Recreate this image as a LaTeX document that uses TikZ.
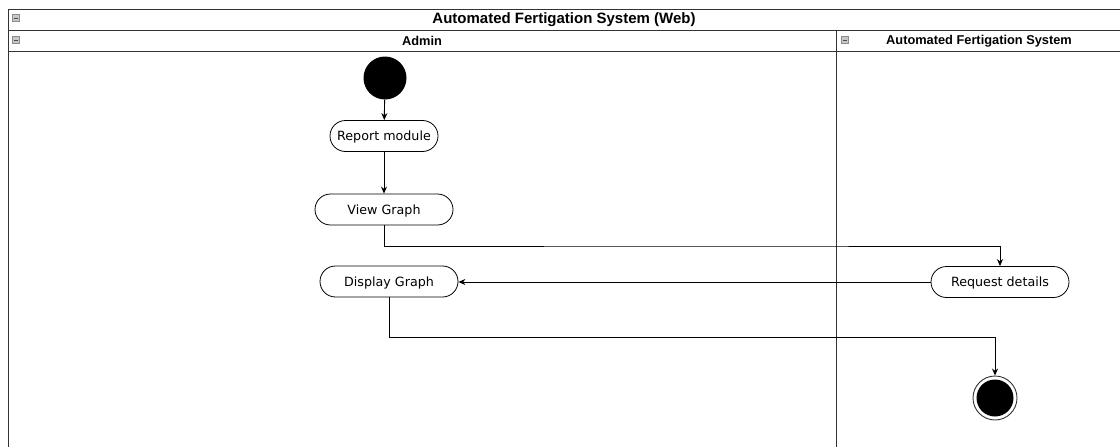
\documentclass[tikz,border=0pt]{standalone}
\usepackage{fontspec}
\setmainfont{DejaVu Sans}
\newfontfamily\hdfont{Liberation Sans}
\usetikzlibrary{arrows.meta}
\begin{document}
\begin{tikzpicture}[x=1pt,y=-1pt,
  act/.style={draw=black,line width=0.8pt,rounded corners=15.5pt,minimum height=31pt,inner sep=0pt,text height=11pt,text depth=2pt,fill=white,font=\fontsize{12.7}{14}\selectfont},
  flow/.style={draw=black,line width=0.9pt,-{Stealth[length=7pt,width=6pt]}},
  lane/.style={draw=black!80,line width=0.9pt},
  mini/.style={draw=black!45,fill=black!22,minimum size=7pt,inner sep=0pt,line width=0.4pt},
  hdr/.style={font=\hdfont\bfseries\fontsize{12.8}{14}\selectfont,inner sep=0pt}]
\useasboundingbox (0,0) rectangle (1120,447);
% frame
\draw[lane] (8,447) -- (8,9) -- (1121,9);
\draw[lane] (8,30) -- (1121,30);
\draw[lane] (8,51) -- (1121,51);
\draw[lane] (836,30) -- (836,447);
% minimise icons
\node[mini] (m1) at (16,18) {};
\node[mini] (m2) at (16,40) {};
\node[mini] (m3) at (845,40) {};
\foreach \n in {m1,m2,m3}{\draw[black!70,line width=1pt] ([xshift=-2pt]\n.center) -- ([xshift=2pt]\n.center);}
% headers
\node[hdr,font=\hdfont\bfseries\fontsize{15}{17}\selectfont] (title) at (564,19.5) {Automated Fertigation System (Web)};
\node[hdr] (hadmin) at (422,41) {Admin};
\node[hdr] (hsys) at (979,41) {Automated Fertigation System};
% nodes
\node[circle,fill=black,minimum size=43pt,inner sep=0pt] (start) at (385,78) {};
\node[act,minimum width=108pt] (report) at (384,136) {Report module};
\node[act,minimum width=138pt] (view) at (384,209.5) {View Graph};
\node[act,minimum width=138pt] (display) at (389,281.5) {Display Graph};
\node[act,minimum width=138pt] (request) at (1000,282) {Request details};
\node[circle,draw=black!80,line width=0.9pt,fill=white,minimum size=44pt,inner sep=0pt] (end) at (995,398) {};
\node[circle,fill=black,minimum size=37pt,inner sep=0pt] at (end.center) {};
% connectors
\draw[flow] (start) -- (report);
\draw[flow] (report) -- (view);
\draw[flow] (view.south) |- (700,246) -- (1000,246) -- (request.north);
\draw[flow] (request.west) -- (request.west -| display.east);
\draw[flow] (display.south) |- (995,337) -- (end.north);
\end{tikzpicture}
\end{document}
